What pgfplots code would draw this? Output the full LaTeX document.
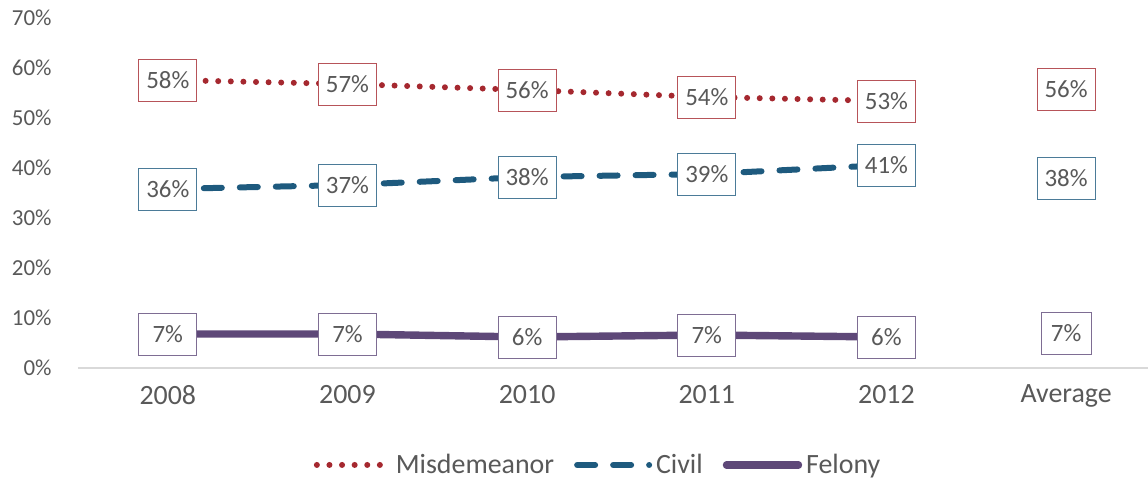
\documentclass[border=0pt]{standalone}
\usepackage{fontspec}
\setmainfont{Carlito}
\usepackage{pgfplots}
\pgfplotsset{compat=1.18}
\definecolor{mred}{HTML}{A5282F}
\definecolor{mblue}{HTML}{1E5A7E}
\definecolor{mpurple}{HTML}{5E4878}
\definecolor{tgray}{HTML}{595959}
\begin{document}
\begin{tikzpicture}
\begin{axis}[
  scale only axis, width=535bp, height=175bp,
  xmin=-0.5, xmax=5.456, ymin=0, ymax=70,
  axis y line=none, axis x line*=bottom,
  x axis line style={draw=black!15, line width=0.8pt, -},
  xtick={0,1,2,3,4,5},
  xticklabels={2008,2009,2010,2011,2012,Average},
  ytick={0,10,...,70},
  major tick length=0pt,
  /pgf/number format/assume math mode=true,
  xticklabel style={font=\fontsize{14}{16}\selectfont, text=tgray, yshift=-5bp},
  clip=false,
  legend style={at={(0.487,-0.277)}, anchor=center, draw=none, legend columns=3,
    font=\fontsize{14}{16}\selectfont, text=tgray, inner sep=0pt,
    /tikz/every even column/.append style={column sep=8bp}},
  legend image code/.code={\draw[#1] (0bp,0bp) -- (36bp,0bp);},
  point meta=explicit symbolic,
  every node near coord/.style={draw, solid, fill=white, anchor=center, text=tgray,
    font=\fontsize{12.5}{14}\selectfont, minimum width=29bp, minimum height=21bp, inner sep=1bp, line width=0.5pt},
  nodes near coords={\pgfplotspointmeta\%},
]
\addplot[mred, line width=3bp, line cap=round, dash pattern=on 0bp off 6.3bp,
  every node near coord/.append style={draw=mred!80, solid, line width=0.5pt}] coordinates {(0,57.6)[58] (1,56.8)[57] (2,55.6)[56] (3,54.2)[54] (4,53.4)[53]};
\addlegendentry{Misdemeanor}
\addplot[mblue, line width=3bp, line cap=round, dash pattern=on 9bp off 9bp,
  every node near coord/.append style={draw=mblue!80, solid, line width=0.5pt}] coordinates {(0,35.8)[36] (1,36.6)[37] (2,38.2)[38] (3,38.8)[39] (4,40.6)[41]};
\addlegendentry{Civil}
\addplot[mpurple, line width=3.7bp, line cap=round,
  every node near coord/.append style={draw=mpurple!80, solid, line width=0.5pt}] coordinates {(0,6.8)[7] (1,6.8)[7] (2,6.2)[6] (3,6.6)[7] (4,6.2)[6]};
\addlegendentry{Felony}
\addplot[draw=none, forget plot, every node near coord/.append style={draw=mred!80}] coordinates {(5,55.8)[56]};
\addplot[draw=none, forget plot, every node near coord/.append style={draw=mblue!80}] coordinates {(5,37.9)[38]};
\addplot[draw=none, forget plot, every node near coord/.append style={draw=mpurple!80, minimum width=25bp}] coordinates {(5,6.9)[7]};
\end{axis}
\foreach \v in {0,10,...,70} {
  \node[anchor=east, text=tgray, font=\fontsize{11.5}{13}\selectfont, inner sep=0pt] at (-13bp, \v*2.5bp) {\v\%};
}
\pgfresetboundingbox
\path[use as bounding box] (-39bp,-56.5bp) rectangle (535bp,184bp);
\end{tikzpicture}
\end{document}
